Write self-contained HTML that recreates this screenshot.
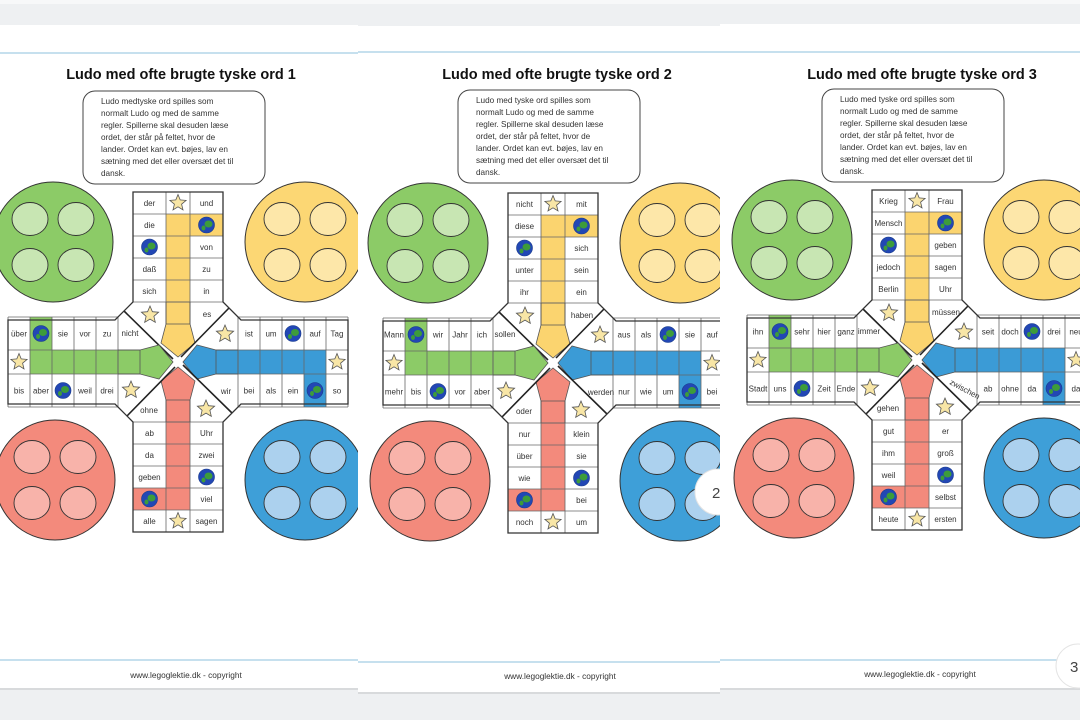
<!DOCTYPE html>
<html><head><meta charset="utf-8">
<style>
html,body{margin:0;padding:0;background:#eef0f2;width:1080px;height:720px;overflow:hidden}
svg{display:block}
text{font-family:"Liberation Sans","DejaVu Sans",sans-serif}
</style></head>
<body>
<svg id="s" width="1080" height="720" viewBox="0 0 1080 720" xmlns="http://www.w3.org/2000/svg"></svg>
<script>
var B=[
 {cx:178,cy:362,title:"Ludo med ofte brugte tyske ord  1",tx:181,bx:83,by:91,ply:"Ludo medtyske ord spilles som",fx:186,fy:678,
  arms:[
   {L:["der","die","G","daß","sich"],R:["und","G","von","zu","in"],iL:"S",iR:"es"},
   {L:["Tag","auf","G","um","ist"],R:["so","G","ein","als","bei"],iL:"S",iR:"wir"},
   {L:["sagen","viel","G","zwei","Uhr"],R:["alle","G","geben","da","ab"],iL:"S",iR:"ohne"},
   {L:["bis","aber","G","weil","drei"],R:["über","G","sie","vor","zu"],iL:"S",iR:"nicht"}]},
 {cx:553,cy:363,title:"Ludo med ofte brugte tyske ord  2",tx:557,bx:458,by:90,ply:"Ludo med tyske ord spilles som",fx:560,fy:679,
  arms:[
   {L:["nicht","diese","G","unter","ihr"],R:["mit","G","sich","sein","ein"],iL:"S",iR:"haben"},
   {L:["auf","sie","G","als","aus"],R:["bei","G","um","wie","nur"],iL:"S",iR:"werden"},
   {L:["um","bei","G","sie","klein"],R:["noch","G","wie","über","nur"],iL:"S",iR:"oder"},
   {L:["mehr","bis","G","vor","aber"],R:["Mann","G","wir","Jahr","ich"],iL:"S",iR:"sollen"}]},
 {cx:917,cy:360,title:"Ludo med ofte brugte tyske ord  3",tx:922,bx:822,by:89,ply:"Ludo med tyske ord spilles som",fx:920,fy:677,
  arms:[
   {L:["Krieg","Mensch","G","jedoch","Berlin"],R:["Frau","G","geben","sagen","Uhr"],iL:"S",iR:"müssen"},
   {L:["neu","drei","G","doch","seit"],R:["da","G","da","ohne","ab"],iL:"S",iR:"zwischen"},
   {L:["ersten","selbst","G","groß","er"],R:["heute","G","weil","ihm","gut"],iL:"S",iR:"gehen"},
   {L:["Stadt","uns","G","Zeit","Ende"],R:["ihn","G","sehr","hier","ganz"],iL:"S",iR:"immer"}]}
];
var LANE=["#fbd46f","#3b9bd6","#f38a7c","#8ccb67"];
var HOME=[["#8ccb67","#c8e6b3",-125,-120],["#fcd774","#fde7a9",127,-120],["#3e9fd8","#acd1ee",127,118],["#f38a7c","#f8b3aa",-123,118]];
function rot(x,y,k){if(k==0)return[x,y];if(k==1)return[-y,x];if(k==2)return[-x,-y];return[y,-x];}
function P(cx,cy,x,y,k){var p=rot(x,y,k);return[cx+p[0],cy+p[1]];}
function rect(cx,cy,x1,y1,x2,y2,k,fill){var a=P(cx,cy,x1,y1,k),b=P(cx,cy,x2,y2,k);
 var X=Math.min(a[0],b[0]),Y=Math.min(a[1],b[1]);return '<rect x="'+X+'" y="'+Y+'" width="'+Math.abs(a[0]-b[0])+'" height="'+Math.abs(a[1]-b[1])+'" fill="'+fill+'"/>';}
function poly(cx,cy,pts,k,attr){return '<polygon points="'+pts.map(function(q){return P(cx,cy,q[0],q[1],k).join(",")}).join(" ")+'" '+attr+'/>';}
function line(cx,cy,x1,y1,x2,y2,k,attr){var a=P(cx,cy,x1,y1,k),b=P(cx,cy,x2,y2,k);return '<line x1="'+a[0]+'" y1="'+a[1]+'" x2="'+b[0]+'" y2="'+b[1]+'" '+attr+'/>';}
function star(x,y,r){var s=[];for(var i=0;i<10;i++){var a=-Math.PI/2+i*Math.PI/5,rr=i%2?r*0.45:r;s.push((x+rr*Math.cos(a)).toFixed(1)+","+(y+rr*Math.sin(a)).toFixed(1));}
 return '<polygon points="'+s.join(" ")+'" fill="#f8e6a6" stroke="#555" stroke-width="0.8"/>';}
function globe(x,y){return '<circle cx="'+x+'" cy="'+y+'" r="8" fill="#2247b5" stroke="#173a8a" stroke-width="0.6"/><ellipse cx="'+(x+2)+'" cy="'+(y-1)+'" rx="4" ry="3.5" fill="#3d9c3a"/><ellipse cx="'+(x-3)+'" cy="'+(y+3)+'" rx="2" ry="2.5" fill="#3d9c3a"/>';}
function item(v,x,y,rotate){if(v=="S")return star(x,y,9);if(v=="G")return globe(x,y);
 if(rotate)return '<text x="'+x+'" y="'+(y+3)+'" font-size="8" fill="#333" text-anchor="middle" transform="rotate(28 '+x+' '+y+')">'+v+'</text>';
 return '<text x="'+x+'" y="'+(y+3)+'" font-size="8" fill="#333" text-anchor="middle">'+v+'</text>';}
function board(b){var cx=b.cx,cy=b.cy,o="";
 HOME.forEach(function(h){var x=cx+h[2],y=cy+h[3];o+='<circle cx="'+x+'" cy="'+y+'" r="60" fill="'+h[0]+'" stroke="#333" stroke-width="1"/>';
  [[-23,-23],[23,-23],[-23,23],[23,23]].forEach(function(d){o+='<ellipse cx="'+(x+d[0])+'" cy="'+(y+d[1])+'" rx="18" ry="16.5" fill="'+h[1]+'" stroke="#333" stroke-width="0.9"/>';});});
 var cross=[[-45,-170],[45,-170],[45,-60],[63,-42],[170,-42],[170,42],[63,42],[45,60],[45,170],[-45,170],[-45,60],[-63,42],[-170,42],[-170,-42],[-63,-42],[-45,-60]];
 o+=poly(cx,cy,cross,0,'fill="#fff"');
 for(var k=0;k<4;k++){var c=LANE[k];
  o+=rect(cx,cy,-12,-148,12,-60,k,c);o+=rect(cx,cy,12,-148,45,-126,k,c);
  o+=poly(cx,cy,[[-12,-60],[12,-60],[12,-38],[17,-19],[0,-5],[-17,-19],[-12,-38]],k,'fill="'+c+'" stroke="#555" stroke-width="0.8"');
  for(var i=0;i<6;i++){var y=-170+22*i;o+=line(cx,cy,-45,y,45,y,k,'stroke="#666" stroke-width="0.8"');}
  [-45,-12,12,45].forEach(function(x){o+=line(cx,cy,x,-170,x,-60,k,'stroke="#666" stroke-width="0.8"');});
  o+=line(cx,cy,-12,-60,-12,-38,k,'stroke="#555" stroke-width="0.8"');o+=line(cx,cy,12,-60,12,-38,k,'stroke="#555" stroke-width="0.8"');
  o+=line(cx,cy,-12,-38,12,-38,k,'stroke="#555" stroke-width="0.8"');
  o+=line(cx,cy,-54,-51,-5,-3,k,'stroke="#222" stroke-width="1.6"');
 }
 o+=poly(cx,cy,cross,0,'fill="none" stroke="#333" stroke-width="1.3"');
 for(var k=0;k<4;k++){var a=b.arms[k];
  for(var i=0;i<5;i++){var yy=-159+22*i;var p=P(cx,cy,-28.5,yy,k);o+=item(a.L[i],p[0],p[1]);p=P(cx,cy,28.5,yy,k);o+=item(a.R[i],p[0],p[1]);}
  var p=P(cx,cy,0,-159,k);o+=star(p[0],p[1],8.5);
  p=P(cx,cy,-28,-47,k);o+=item(a.iL,p[0],p[1]);
  p=P(cx,cy,29,-48,k);o+=item(a.iR,p[0],p[1],a.iR=="zwischen");
 }
 o+='<text x="'+b.tx+'" y="79" font-size="14.5" font-weight="bold" fill="#111" text-anchor="middle">'+b.title+'</text>';
 o+='<rect x="'+b.bx+'" y="'+b.by+'" width="182" height="93" rx="12" fill="#fff" stroke="#444" stroke-width="1"/>';
 var lines=[b.ply,"normalt Ludo og med de samme","regler. Spillerne skal desuden læse","ordet, der står på feltet, hvor de","lander. Ordet kan evt. bøjes, lav en","sætning med det eller oversæt det til","dansk."];
 lines.forEach(function(t,i){o+='<text x="'+(b.bx+18)+'" y="'+(b.by+13+12*i)+'" font-size="8.2" fill="#333">'+t+'</text>';});
 o+='<text x="'+b.fx+'" y="'+b.fy+'" font-size="8.3" fill="#333" text-anchor="middle">www.legoglektie.dk - copyright</text>';
 return o;}
var s="";
s+='<rect x="0" y="0" width="1080" height="4" fill="#f7f8f9"/>';
var pages=[[0,25,358,663,53,660],[358,26,362,666,52,662],[720,24,360,664,52,660]];
for(var i=0;i<3;i++){var g=pages[i];
 s+='<rect x="'+g[0]+'" y="'+(g[1]+2)+'" width="'+g[2]+'" height="'+g[3]+'" fill="#d8dadc"/>';
 s+='<rect x="'+g[0]+'" y="'+g[1]+'" width="'+g[2]+'" height="'+g[3]+'" fill="#fff"/>';
 s+='<line x1="'+g[0]+'" y1="'+g[4]+'" x2="'+(g[0]+g[2])+'" y2="'+g[4]+'" stroke="#8cc0dc" stroke-width="1"/>';
 s+='<line x1="'+g[0]+'" y1="'+g[5]+'" x2="'+(g[0]+g[2])+'" y2="'+g[5]+'" stroke="#8cc0dc" stroke-width="1"/>';
 s+=board(B[i]);
 if(i==1){s+='<circle cx="718" cy="492" r="23" fill="#fff" stroke="#e4e4e4"/><text x="712" y="498" font-size="15" fill="#444">2</text>';}
}
s+='<circle cx="1078" cy="666" r="22" fill="#fff" stroke="#e4e4e4"/><text x="1070" y="672" font-size="15" fill="#444">3</text>';
document.getElementById("s").innerHTML=s;
</script>
</body></html>
